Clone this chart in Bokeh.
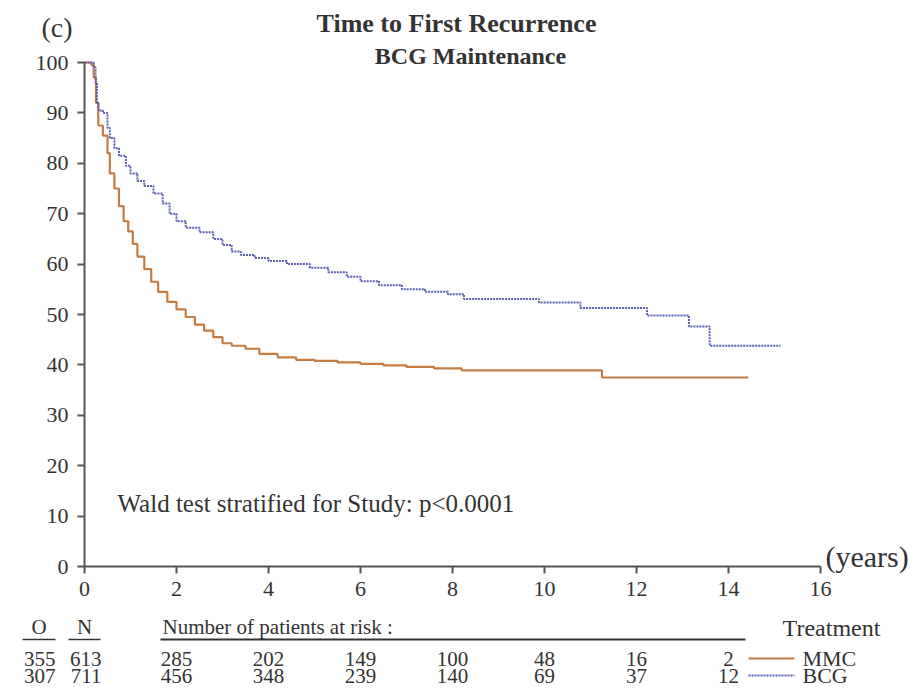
from bokeh.plotting import figure
from bokeh.models import Range1d, FixedTicker, ColumnDataSource
from bokeh.core.properties import value
from bokeh.embed import file_html
from bokeh.resources import INLINE

# ---- data ----
mmc_t = [0, 0.15, 0.2, 0.25, 0.3, 0.4, 0.5, 0.55, 0.65, 0.75, 0.85, 0.95, 1.05, 1.15, 1.3, 1.45,
         1.6, 1.8, 2.0, 2.2, 2.4, 2.6, 2.8, 3.0, 3.2, 3.5, 3.8, 4.2, 4.6, 5.0, 5.5, 6.0, 6.5,
         7.0, 7.6, 8.2, 11.25, 14.43]
mmc_s = [100, 99.5, 97, 92, 87.5, 85.5, 82, 78, 75, 71.5, 68.5, 66.5, 64, 61.5, 59, 56.5,
         54.5, 52.5, 51.0, 49.5, 48, 46.8, 45.5, 44.3, 43.8, 43.2, 42.2, 41.5, 41.0, 40.8, 40.5, 40.2, 39.9,
         39.6, 39.3, 38.9, 37.5, 37.5]
bcg_t = [0, 0.2, 0.24, 0.27, 0.3, 0.4, 0.5, 0.55, 0.65, 0.75, 0.9, 1.0, 1.15, 1.3, 1.5, 1.7,
         1.85, 2.0, 2.2, 2.5, 2.8, 3.0, 3.2, 3.4, 3.7, 4.0, 4.4, 4.9, 5.3, 5.7, 6.0, 6.4, 6.9,
         7.4, 7.9, 8.25, 9.88, 10.78, 12.23, 13.14, 13.59, 15.13]
bcg_s = [100, 99, 96, 92, 90.5, 90, 87, 85, 83, 81.5, 79.5, 78, 76.5, 75.5, 74, 72,
         70, 68.5, 67.2, 66.3, 65, 63.8, 62.5, 61.8, 61.2, 60.6, 60.0, 59.3, 58.4, 57.5, 56.6, 55.8, 55.0,
         54.5, 54.0, 53.1, 52.4, 51.3, 49.8, 47.6, 43.8, 43.8]

x_ticks = [0, 2, 4, 6, 8, 10, 12, 14, 16]
y_ticks = [0, 10, 20, 30, 40, 50, 60, 70, 80, 90, 100]
risk_times = [2, 4, 6, 8, 10, 12, 14]
mmc_risk = [285, 202, 149, 100, 48, 16, 2]
bcg_risk = [456, 348, 239, 140, 69, 37, 12]
groups = ["MMC", "BCG"]
observed = [355, 307]
numbers = [613, 711]

MMC_COLOR = "#c47c45"
BCG_COLOR = "#5a60b0"
TXT = "#333333"
AX = "#555555"
FONT = "Liberation Serif"

# ---- layout: frame spans the whole canvas; axes are pinned at 0 ----
W, H = 910, 688
X0, Y0 = 84, 566          # pixel position of (0, 0)
KX, KY = 46.0, 5.04       # pixels per unit


def dx(px):
    return (px - X0) / KX


def dy(py):
    return (Y0 - py) / KY


p = figure(width=W, height=H, output_backend="svg", toolbar_location=None,
           x_range=Range1d(dx(0), dx(W)), y_range=Range1d(dy(H), dy(0)),
           min_border=0)
p.outline_line_color = None
p.grid.grid_line_color = None
p.background_fill_color = "white"
p.border_fill_color = "white"

p.xaxis.fixed_location = 0
p.yaxis.fixed_location = 0
p.xaxis.bounds = (0, 16)
p.yaxis.bounds = (0, 100)
for ax in (p.xaxis[0], p.yaxis[0]):
    ax.axis_line_color = AX
    ax.axis_line_width = 2
    ax.major_tick_line_color = AX
    ax.major_tick_line_width = 2
    ax.major_tick_out = 7
    ax.major_tick_in = 0
    ax.minor_tick_line_color = None
    ax.major_label_text_font = FONT
    ax.major_label_text_font_size = "22px"
    ax.major_label_text_color = TXT
p.xaxis.ticker = FixedTicker(ticks=x_ticks)
p.yaxis.ticker = FixedTicker(ticks=y_ticks)
p.xaxis.major_label_standoff = 8
p.yaxis.major_label_standoff = 9

p.step(mmc_t, mmc_s, mode="after", line_color=MMC_COLOR, line_width=2.2)
p.step(bcg_t, bcg_s, mode="after", line_color=BCG_COLOR, line_width=2, line_dash="2 1")


def lab(x, y, text, size="20px", bold=False, align="left", baseline="middle"):
    p.text(x=[x], y=[y], text=[text], text_font=value(FONT), text_font_size=size,
           text_color=TXT, text_font_style="bold" if bold else "normal",
           text_align=align, text_baseline=baseline)


def seg(x0, y0, x1, y1, color=TXT, width=1.5, dash="solid"):
    p.segment(x0=[x0], y0=[y0], x1=[x1], y1=[y1], line_color=color,
              line_width=width, line_dash=dash)


lab(dx(456), dy(23), "Time to First Recurrence", size="26px", bold=True, align="center")
lab(dx(470), dy(55), "BCG Maintenance", size="24px", bold=True, align="center")
lab(dx(41), dy(27), "(c)", size="28px")
lab(dx(117), dy(503), "Wald test stratified for Study: p<0.0001", size="25px")
lab(dx(825), dy(556), "(years)", size="30px")

# risk table
TS = "21px"
lab(dx(38.5), dy(626), "O", size=TS, align="center")
lab(dx(84), dy(626), "N", size=TS, align="center")
seg(dx(22), dy(639), dx(55), dy(639))
seg(dx(68), dy(639), dx(100), dy(639))
lab(dx(162), dy(626), "Number of patients at risk :", size=TS)
seg(dx(160), dy(639), dx(745), dy(639), width=2)
row_y = [dy(658), dy(675)]
for i, g in enumerate(groups):
    lab(dx(55), row_y[i], str(observed[i]), size=TS, align="right")
    lab(dx(101), row_y[i], str(numbers[i]), size=TS, align="right")
src = ColumnDataSource(dict(t=risk_times, a=[str(v) for v in mmc_risk], b=[str(v) for v in bcg_risk]))
for col, yy in (("a", row_y[0]), ("b", row_y[1])):
    p.text(x="t", y=yy, text=col, source=src, text_font=value(FONT), text_font_size=TS,
           text_color=TXT, text_align="center", text_baseline="middle")

# legend
lab(dx(831), dy(627), "Treatment", size="24px", align="center")
seg(dx(748), row_y[0], dx(794), row_y[0], color=MMC_COLOR, width=2)
seg(dx(748), row_y[1], dx(794), row_y[1], color=BCG_COLOR, width=2, dash="2 1")
lab(dx(802), row_y[0], groups[0], size="22px")
lab(dx(802), row_y[1], groups[1], size="22px")

open("out.html", "w").write(file_html(p, INLINE))
